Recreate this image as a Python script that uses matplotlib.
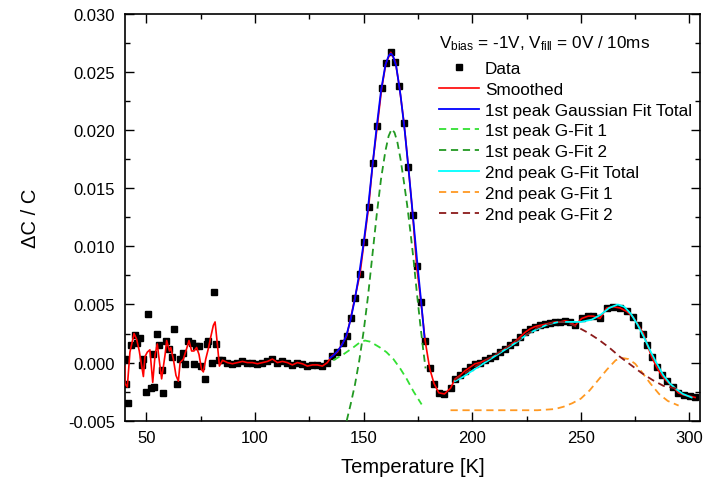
"""
DLTS-style capacitance transient spectrum with two-peak Gaussian fits.
Saves out.png (711x481).
"""

import matplotlib.pyplot as plt
from matplotlib.ticker import MultipleLocator, FormatStrFormatter

plt.rcParams["font.family"] = ["Liberation Sans", "DejaVu Sans"]
plt.rcParams["axes.unicode_minus"] = False
plt.rcParams["mathtext.fontset"] = "custom"
plt.rcParams["mathtext.rm"] = "Liberation Sans"
plt.rcParams["mathtext.it"] = "Liberation Sans"

# measured points (temperature in K, dC/C)
data_T = [
    40.1, 40.5, 41.7, 42.8, 44.7, 45.5, 47.0, 48.0, 48.6, 49.8, 50.9, 52.0,
    53.2, 53.6, 54.7, 55.9, 57.0, 57.8, 58.9, 60.5, 61.6, 62.7, 63.9, 65.5,
    66.7, 67.8, 69.0, 70.8, 71.9, 72.8, 74.1, 75.1, 77.0, 77.8, 78.5, 80.1,
    81.1, 82.0, 83.6,
    85.0, 87.3, 89.6, 91.9, 94.2, 96.5, 98.8, 101.1, 103.4, 105.7, 108.0,
    110.3, 112.6, 114.9, 117.2, 119.5, 121.8, 124.1, 126.4, 128.7, 131.0,
    133.3, 135.5, 137.9, 140.4, 142.2, 144.0, 146.0, 148.3, 150.2, 152.3,
    154.2, 156.3, 158.3, 160.3, 162.5, 164.6, 166.4, 168.6, 170.6, 172.6,
    174.4, 176.4, 178.3, 180.4, 182.4, 184.6, 187.2, 190.0, 192.1, 194.4,
    196.7, 199.0, 201.3, 203.6, 205.9, 208.2, 210.5, 212.8, 215.1, 217.4,
    219.7, 222.0, 224.3, 226.6, 228.9, 231.2, 233.5, 235.8, 238.1, 240.4,
    242.7, 245.0, 247.3, 250.4, 253.4, 255.7, 258.8, 261.9, 265.0, 268.0,
    271.1, 274.2, 276.5, 278.8, 280.6, 282.6, 284.9, 287.2, 289.5, 292.6,
    294.9, 297.5, 300.3, 302.6,
]
data_v = [
    0.0003, -0.0018, -0.0035, 0.0015, 0.0024, 0.0017, 0.0021, -0.0002, 0.0003,
    -0.0025, 0.0042, -0.0022, 0.0007, -0.0021, 0.0025, 0.0015, -0.0006,
    -0.0026, 0.0019, 0.0012, 0.0005, 0.0029, -0.0018, 0.0003, 0.0008,
    -0.0001, 0.0019, 0.0017, -0.0001, 0.0014, 0.0014, -0.0003, -0.0014,
    0.0016, 0.0019, 0.0000, 0.0061, 0.0016, 0.0002,
    0.0002, 0.0000, -0.0001, 0.0000, 0.0001, 0.0000, 0.0000, -0.0001, 0.0000,
    0.0001, 0.0003, 0.0000, 0.0001, 0.0000, -0.0002, 0.0000, -0.0001, -0.0003,
    -0.0002, -0.0002, -0.0003, 0.0000, 0.0006, 0.0009, 0.0017, 0.0023, 0.0038,
    0.0056, 0.0076, 0.0104, 0.0134, 0.0172, 0.0204, 0.0236, 0.0258, 0.0267,
    0.0259, 0.0238, 0.0206, 0.0168, 0.0127, 0.0083, 0.0052, 0.0019, -0.0005,
    -0.0018, -0.0026, -0.0027, -0.0022, -0.0014, -0.0011, -0.0007, -0.0004,
    -0.0001, 0.0000, 0.0002, 0.0004, 0.0006, 0.0009, 0.0012, 0.0015, 0.0018,
    0.0022, 0.0026, 0.0029, 0.0031, 0.0032, 0.0033, 0.0034, 0.0035, 0.0035,
    0.0036, 0.0035, 0.0032, 0.0038, 0.0040, 0.0040, 0.0038, 0.0047, 0.0048,
    0.0047, 0.0044, 0.0039, 0.0032, 0.0025, 0.0015, 0.0005, -0.0004, -0.0011,
    -0.0016, -0.0021, -0.0026, -0.0028, -0.0029, -0.0030,
]

# smoothed curve in the noisy low-temperature part
smooth_T = [
    40.0, 40.1, 41.2, 42.4, 44.3, 45.5, 46.7, 47.3, 48.6, 49.3, 50.4, 51.6,
    52.9, 54.0, 55.0, 55.9, 57.0, 58.6, 59.3, 60.6, 61.2, 62.4, 63.6, 64.7,
    65.5, 67.0, 68.5, 69.6, 70.8, 71.9, 73.1, 74.2, 75.4, 76.2, 77.3, 78.5,
    79.6, 80.8, 81.6, 82.7, 83.6,
]
smooth_v = [
    -0.0003, -0.0018, -0.0021, 0.0009, 0.0025, 0.0020, 0.0010, 0.0003,
    -0.0012, 0.0005, 0.0009, 0.0011, -0.0017, 0.0007, 0.0016, 0.0002,
    -0.0014, 0.0007, 0.0019, 0.0010, 0.0013, 0.0003, -0.0011, -0.0016,
    0.0000, 0.0003, 0.0012, 0.0019, 0.0010, 0.0010, 0.0013, 0.0007,
    -0.0006, -0.0008, 0.0003, 0.0012, 0.0022, 0.0032, 0.0035, 0.0015,
    -0.0003,
]

# first peak: total fit and its two components
fit1_T = [134.5, 136.0, 138.0, 140.0, 142.0, 144.0, 146.0, 148.0, 150.0,
          152.0, 154.0, 156.0, 158.0, 160.0, 161.5, 162.5, 163.5, 165.0,
          167.0, 169.0, 171.0, 173.0, 175.0, 176.5, 178.0]
fit1_v = [0.0004, 0.0006, 0.0010, 0.0015, 0.0023, 0.0037, 0.0055, 0.0077,
          0.0103, 0.0133, 0.0168, 0.0203, 0.0234, 0.0256, 0.0264, 0.0266,
          0.0264, 0.0255, 0.0230, 0.0198, 0.0160, 0.0120, 0.0080, 0.0052,
          0.0022]

g1a_T = [136.0, 140.6, 145.2, 148.0, 150.6, 153.0, 157.5, 160.5, 163.7,
         166.8, 169.8, 173.0, 176.7]
g1a_v = [0.0002, 0.0007, 0.0013, 0.0017, 0.0019, 0.0018, 0.0013, 0.0009,
         0.0003, -0.0005, -0.0014, -0.0025, -0.0036]

g1b_T = [142.2, 144.0, 146.0, 148.0, 150.0, 152.0, 154.0, 156.0, 158.0,
         160.0, 161.5, 162.9, 164.2, 165.5, 167.0, 168.5, 170.0, 171.5,
         173.0, 174.5, 176.0, 177.3, 178.5]
g1b_v = [-0.0050, -0.0036, -0.0019, 0.0002, 0.0027, 0.0057, 0.0092, 0.0127,
         0.0158, 0.0182, 0.0195, 0.0201, 0.0198, 0.0190, 0.0175, 0.0156,
         0.0136, 0.0113, 0.0088, 0.0060, 0.0034, 0.0013, -0.0005]

# second peak: total fit and its two components
fit2_T = [192.0, 196.0, 200.0, 205.0, 210.0, 215.0, 220.0, 225.0, 230.0,
          235.0, 240.0, 245.0, 250.0, 255.0, 259.0, 263.0, 267.0, 270.0,
          273.0, 276.0, 279.0, 282.0, 285.0, 288.0, 291.0, 294.0, 297.0,
          301.0]
fit2_v = [-0.0016, -0.0012, -0.0007, -0.0001, 0.0005, 0.0011, 0.0017,
          0.0024, 0.0029, 0.0033, 0.0035, 0.0035, 0.0035, 0.0037, 0.0041,
          0.0047, 0.0050, 0.0048, 0.0042, 0.0033, 0.0022, 0.0010, -0.0001,
          -0.0011, -0.0018, -0.0023, -0.0027, -0.0030]

g2a_T = [190.0, 200.0, 210.0, 220.0, 230.0, 238.0, 242.0, 246.0, 250.0,
         254.0, 258.0, 262.0, 266.0, 269.0, 272.0, 275.0, 278.0, 282.0,
         286.0, 290.0, 295.0]
g2a_v = [-0.0041, -0.0041, -0.0041, -0.0041, -0.0041, -0.0040, -0.0038,
         -0.0035, -0.0031, -0.0024, -0.0015, -0.0006, 0.0002, 0.0004,
         0.0003, -0.0001, -0.0008, -0.0018, -0.0027, -0.0033, -0.0037]

g2b_T = [192.0, 200.0, 210.0, 220.0, 230.0, 238.0, 243.0, 248.0, 253.0,
         258.0, 263.0, 268.0, 273.0, 278.0, 283.0, 288.0, 293.0, 296.0]
g2b_v = [-0.0015, -0.0005, 0.0006, 0.0018, 0.0030, 0.0035, 0.0035, 0.0031,
         0.0026, 0.0020, 0.0013, 0.0005, -0.0002, -0.0009, -0.0015, -0.0020,
         -0.0022, -0.0023]

# smoothed line continues on the measured points above the noisy region
red_T = smooth_T + [t for t in data_T if t > 84]
red_v = smooth_v + [v for t, v in zip(data_T, data_v) if t > 84]

fig = plt.figure(figsize=(7.11, 4.81), dpi=100)
ax = fig.add_axes([0.1754, 0.1233, 0.8096, 0.8455])

dash = (0, (4, 2.6))
ax.plot(data_T, data_v, "s", color="black", markersize=4.0, label="Data",
        zorder=2)
ax.plot(red_T, red_v, color="#ff0000", lw=1.2, label="Smoothed", zorder=3)
ax.plot(fit1_T, fit1_v, color="#0000ff", lw=1.3,
        label="1st peak Gaussian Fit Total", zorder=4)
ax.plot(g1a_T, g1a_v, color="#33e033", lw=1.3, ls=dash,
        label="1st peak G-Fit 1", zorder=4)
ax.plot(g1b_T, g1b_v, color="#229922", lw=1.3, ls=dash,
        label="1st peak G-Fit 2", zorder=4)
ax.plot(fit2_T, fit2_v, color="#00ffff", lw=1.3,
        label="2nd peak G-Fit Total", zorder=4)
ax.plot(g2a_T, g2a_v, color="#ff9922", lw=1.3, ls=dash,
        label="2nd peak G-Fit 1", zorder=4)
ax.plot(g2b_T, g2b_v, color="#8b1a1a", lw=1.3, ls=dash,
        label="2nd peak G-Fit 2", zorder=4)

ax.set_xlim(40, 305)
ax.set_ylim(-0.005, 0.030)
ax.xaxis.set_major_locator(MultipleLocator(50))
ax.xaxis.set_minor_locator(MultipleLocator(25))
ax.yaxis.set_major_locator(MultipleLocator(0.005))
ax.yaxis.set_minor_locator(MultipleLocator(0.0025))
ax.yaxis.set_major_formatter(FormatStrFormatter("%.3f"))
ax.tick_params(which="both", direction="in", top=True, right=True,
               width=1.0, labelsize=12)
ax.tick_params(which="major", length=6.5, pad=7)
ax.tick_params(which="minor", length=3.5)
for s in ax.spines.values():
    s.set_linewidth(1.2)

ax.set_xlabel("Temperature [K]", fontsize=14.5, labelpad=8)
ax.set_ylabel("\u0394C / C", fontsize=14.5, labelpad=20)

leg = ax.legend(
    title="V$_{\\rm bias}$ = -1V, V$_{\\rm fill}$ = 0V / 10ms",
    loc="upper left", bbox_to_anchor=(0.532, 0.974), frameon=False,
    fontsize=12.3, title_fontsize=12.3, numpoints=1, handlelength=2.3,
    handletextpad=0.35, labelspacing=0.34, borderpad=0, alignment="left",
)
# a little more room between the title and the first entry
leg._legend_box.sep += 2.4

fig.savefig("out.png", dpi=100)
